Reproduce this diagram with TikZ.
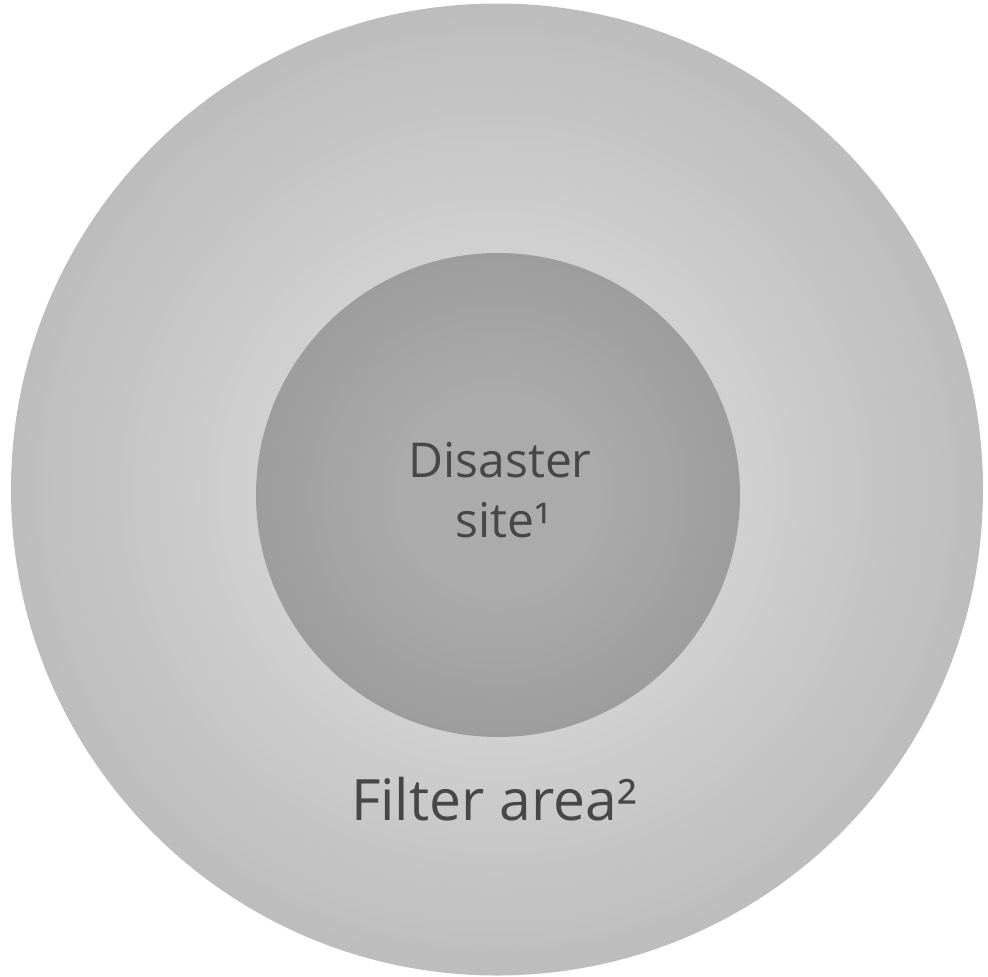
\documentclass[tikz,border=0pt]{standalone}
\usepackage{fontspec}
\setmainfont{Open Sans}
\definecolor{outerin}{HTML}{D0D0D0}
\definecolor{outerout}{HTML}{BDBDBD}
\definecolor{innerin}{HTML}{ABABAB}
\definecolor{innerout}{HTML}{9D9D9D}
\definecolor{labelgray}{HTML}{474747}
\tikzset{
  zone/.style={circle, inner sep=0pt, draw=none},
  lbl/.style={inner sep=0pt, text=labelgray, font=\fontsize{48}{60}\selectfont, anchor=base}
}
\begin{document}
\begin{tikzpicture}[x=1pt,y=1pt]
\useasboundingbox (0,0) rectangle (988,-977);
% outer zone: slightly darker at the rim, lighter toward the inner disc
\node[zone, minimum size=972pt, fill=outerout] (outer) at (497,-489.5) {};
\foreach \k in {1,...,40}{
  \pgfmathsetmacro{\rr}{486-\k*6.1}
  \pgfmathsetmacro{\pc}{min(100,\k*2.6)}
  \fill[outerin!\pc!outerout] (outer.center) circle[radius=\rr];
}
% inner zone: disaster site
\node[zone, minimum size=484pt, fill=innerout] (inner) at (498,-495) {};
\foreach \k in {1,...,40}{
  \pgfmathsetmacro{\rr}{242-\k*5.5}
  \pgfmathsetmacro{\pc}{min(100,\k*4)}
  \fill[innerin!\pc!innerout] (inner.center) circle[radius=\rr];
}
\node[lbl] (dis) at (500,-477) {Disaster};
\node[lbl] (site) at (503,-537) {site¹};
\node[lbl, font=\fontsize{57}{68}\selectfont] (filter) at (494,-820) {Filter area²};
\end{tikzpicture}
\end{document}
